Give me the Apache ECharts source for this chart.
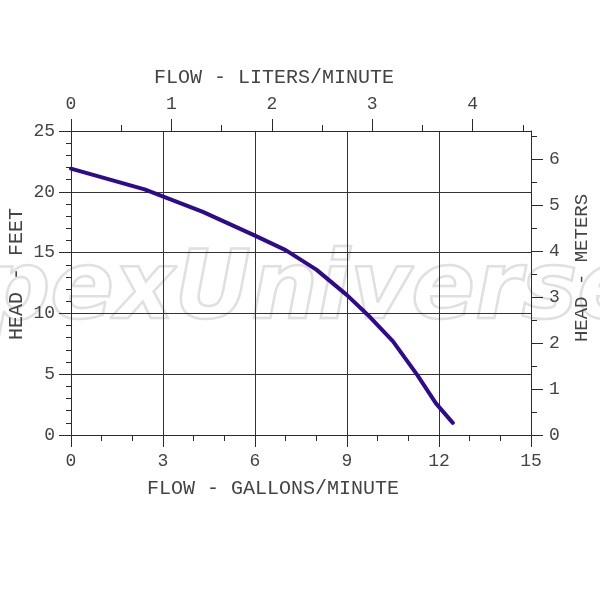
<!DOCTYPE html>
<html>
<head>
<meta charset="utf-8">
<script src="https://cdn.jsdelivr.net/npm/echarts@6/dist/echarts.min.js"></script>
<style>html,body{margin:0;padding:0;background:#fff}#c{width:600px;height:600px}</style>
</head>
<body>
<div id="c"></div>
<script>
// Flow (GPM) vs head (feet)
const flowGpm = [0, 2.4, 4.3, 6.0, 7.0, 8.0, 9.0, 9.75, 10.5, 11.3, 11.9, 12.45];
const headFt  = [21.9, 20.2, 18.35, 16.4, 15.2, 13.6, 11.5, 9.7, 7.7, 4.9, 2.6, 1.0];

// Axis ranges and tick labels
const gpmMax = 15;
const ftMax = 25;
const lpmMax = 4.582;
const meterMax = 6.613;
const lpmTicks = [0, 1, 2, 3, 4];
const lpmMinor = [0.5, 1.5, 2.5, 3.5, 4.5];
const meterTicks = [0, 1, 2, 3, 4, 5, 6];
const meterMinor = [0.5, 1.5, 2.5, 3.5, 4.5, 5.5, 6.5];

const titles = {
  top: 'FLOW - LITERS/MINUTE',
  bottom: 'FLOW - GALLONS/MINUTE',
  left: 'HEAD - FEET',
  right: 'HEAD - METERS'
};
const watermark = 'pexUniverse';

const ink = '#2b2b2b';
const txt = '#444';
const font = 'Liberation Mono';
const lineSt = { color: ink, width: 1 };
const labelSt = { fontFamily: font, fontSize: 18, color: txt };

const chart = echarts.init(document.getElementById('c'), null, { renderer: 'canvas' });
chart.setOption({
  animation: false,
  backgroundColor: '#fff',
  grid: { left: 71, top: 131, width: 460, height: 304, containLabel: false },
  xAxis: [
    {
      type: 'value', position: 'bottom', min: 0, max: gpmMax, interval: 3,
      axisLine: { show: true, onZero: false, lineStyle: lineSt },
      axisTick: { show: true, length: 12, lineStyle: lineSt },
      minorTick: { show: true, splitNumber: 3, length: 6, lineStyle: lineSt },
      splitLine: { show: true, lineStyle: { color: '#333', width: 1 } },
      axisLabel: Object.assign({ margin: 17 }, labelSt)
    },
    {
      type: 'value', position: 'top', min: 0, max: lpmMax,
      axisLine: { show: true, onZero: false, lineStyle: lineSt },
      axisTick: { show: true, length: 12, lineStyle: lineSt, customValues: lpmTicks },
      splitLine: { show: false },
      axisLabel: Object.assign({ margin: 18, customValues: lpmTicks }, labelSt)
    },
    {
      type: 'value', position: 'top', min: 0, max: lpmMax,
      axisLine: { show: false, onZero: false },
      axisTick: { show: true, length: 6, lineStyle: lineSt, customValues: lpmMinor },
      splitLine: { show: false },
      axisLabel: { show: false }
    }
  ],
  yAxis: [
    {
      type: 'value', position: 'left', min: 0, max: ftMax, interval: 5,
      axisLine: { show: true, onZero: false, lineStyle: lineSt },
      axisTick: { show: true, length: 12, lineStyle: lineSt },
      minorTick: { show: true, splitNumber: 5, length: 5, lineStyle: lineSt },
      splitLine: { show: true, lineStyle: { color: '#333', width: 1 } },
      axisLabel: Object.assign({ margin: 16 }, labelSt)
    },
    {
      type: 'value', position: 'right', min: 0, max: meterMax,
      axisLine: { show: true, onZero: false, lineStyle: lineSt },
      axisTick: { show: true, length: 12, lineStyle: lineSt, customValues: meterTicks },
      splitLine: { show: false },
      axisLabel: Object.assign({ margin: 18, customValues: meterTicks }, labelSt)
    },
    {
      type: 'value', position: 'right', min: 0, max: meterMax,
      axisLine: { show: false, onZero: false },
      axisTick: { show: true, length: 6, lineStyle: lineSt, customValues: meterMinor },
      splitLine: { show: false },
      axisLabel: { show: false }
    }
  ],
  graphic: [
    {
      type: 'text', x: 312, y: 294, z: -10, silent: true,
      style: {
        text: watermark, font: 'italic bold 94px "DejaVu Sans"',
        fill: 'rgba(0,0,0,0)', stroke: '#e0e0e0', lineWidth: 2.5,
        textAlign: 'center', textVerticalAlign: 'middle'
      }
    },
    { type: 'text', x: 274, y: 78, style: { text: titles.top, font: '20px "' + font + '"', fill: txt, textAlign: 'center', textVerticalAlign: 'middle' } },
    { type: 'text', x: 273, y: 489, style: { text: titles.bottom, font: '20px "' + font + '"', fill: txt, textAlign: 'center', textVerticalAlign: 'middle' } },
    { type: 'text', x: 17, y: 274, rotation: Math.PI / 2, style: { text: titles.left, font: '20px "' + font + '"', fill: txt, textAlign: 'center', textVerticalAlign: 'middle' } },
    { type: 'text', x: 582, y: 268, rotation: Math.PI / 2, style: { text: titles.right, font: '19px "' + font + '"', fill: txt, textAlign: 'center', textVerticalAlign: 'middle' } }
  ],
  series: [
    {
      type: 'line', xAxisIndex: 0, yAxisIndex: 0,
      data: flowGpm.map((g, i) => [g, headFt[i]]),
      showSymbol: false, symbol: 'none', smooth: false,
      lineStyle: { color: '#2e0a8c', width: 4, cap: 'round', join: 'round' },
      z: 5
    }
  ]
});
</script>
</body>
</html>
